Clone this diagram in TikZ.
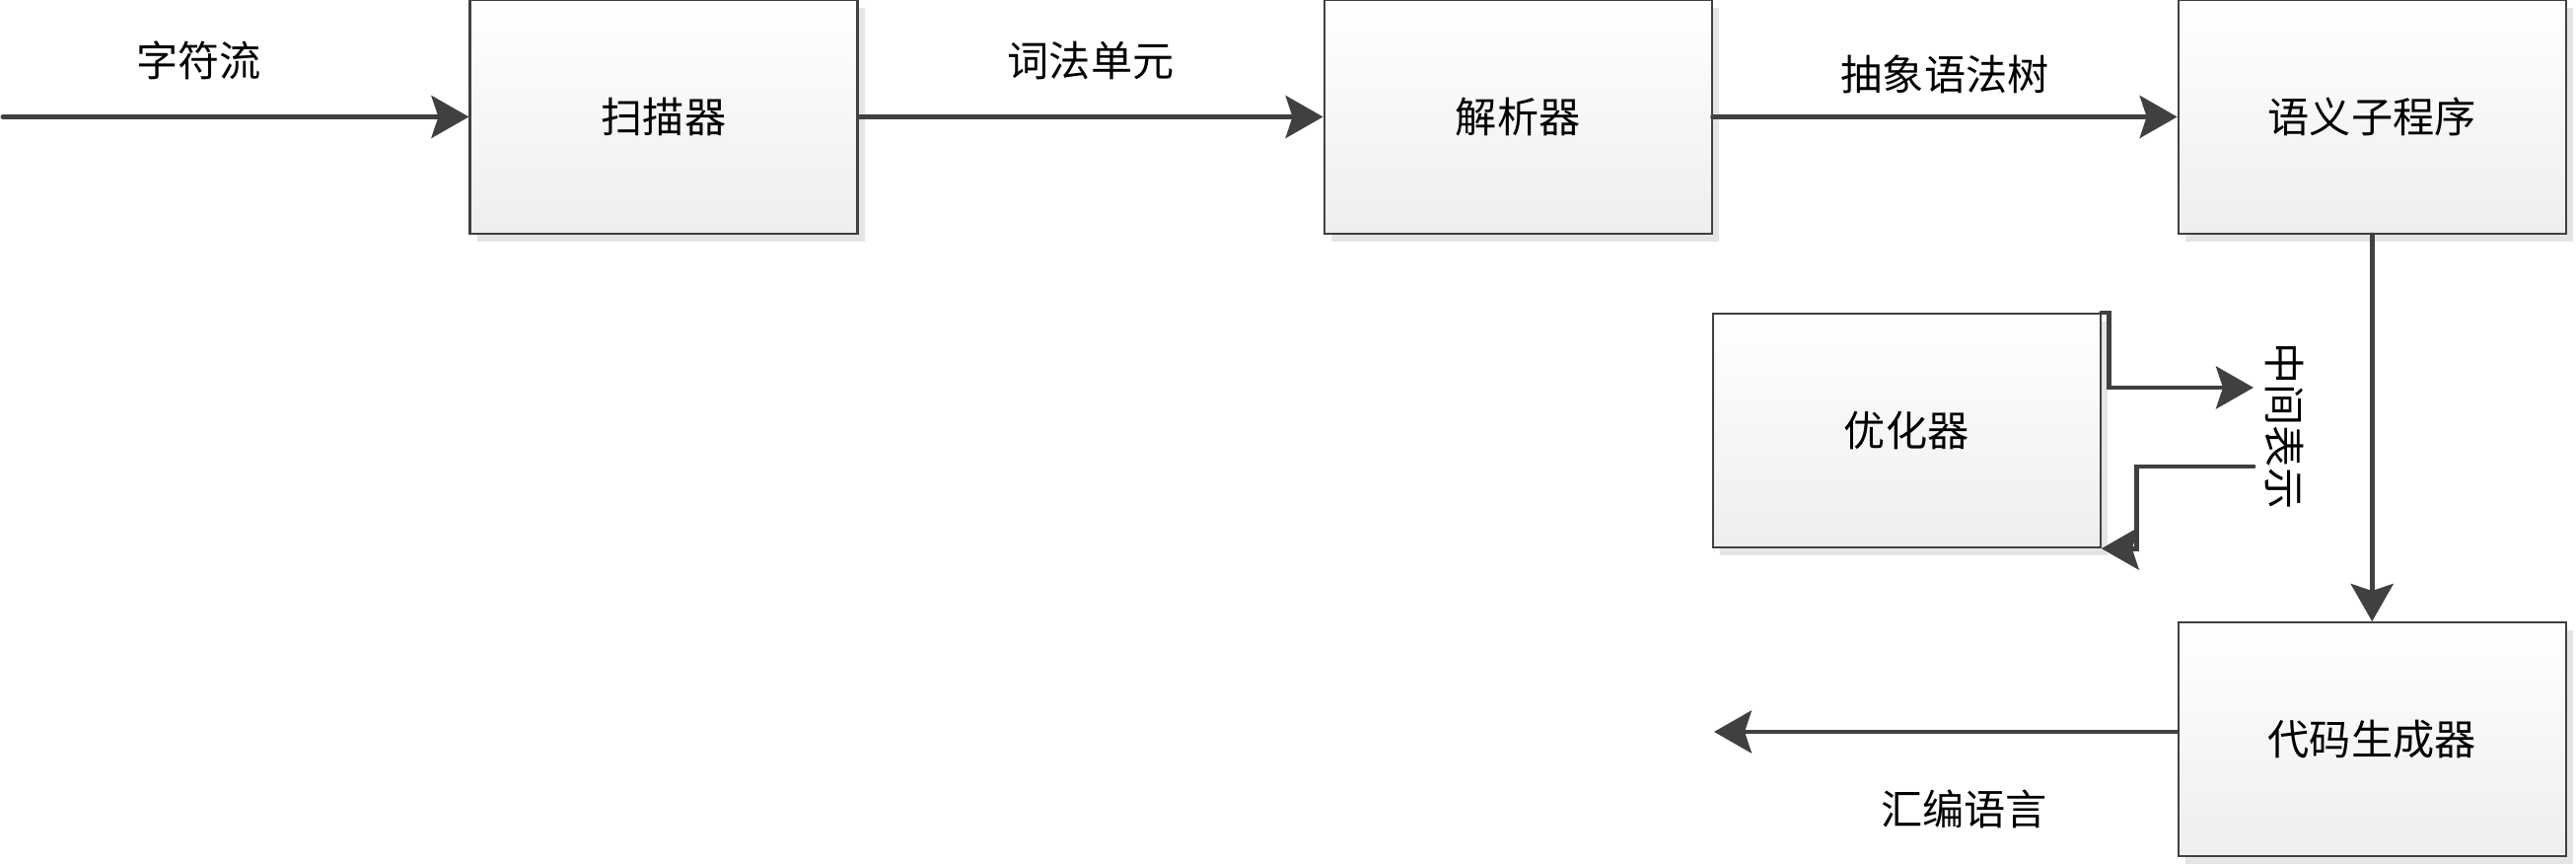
\documentclass[tikz,border=0pt]{standalone}
\usepackage{fontspec}
\newfontfamily\cjk{Noto Sans CJK SC}
\usepackage{tikz}
\usetikzlibrary{arrows.meta,positioning,calc,shadows}
\definecolor{linegray}{HTML}{404040}
\definecolor{shadegray}{HTML}{EEEEEE}
\definecolor{shadowgray}{HTML}{E5E5E5}

\begin{document}
\begin{tikzpicture}[
  font=\cjk\fontsize{12pt}{14pt}\selectfont,
  box/.style={draw=linegray, line width=0.6pt, top color=white, bottom color=shadegray, minimum width=3.93cm, minimum height=2.37cm, inner sep=2pt, drop shadow={shadow xshift=0.075cm, shadow yshift=-0.08cm, fill=shadowgray, opacity=1}},
  arr/.style={-{Stealth[length=0.38cm, width=0.43cm, inset=0.07cm]}, line width=1.4pt, draw=linegray, line cap=round},
  lbl/.style={inner sep=0pt},
  node distance=4.71cm
]
\useasboundingbox (0,0) rectangle (26.12,-8.76);
\node[box] (scan) at (6.73,-1.185) {扫描器};
\node[box, right=of scan] (parse) {解析器};
\node[box, right=of parse] (sem) {语义子程序};
\node[box, below=3.92cm of sem] (gen) {代码生成器};
\node[box, anchor=north west] (opt) at ($(parse.south east)+(-0.01,-0.79)$) {优化器};
% main pipeline
\coordinate (src) at (0.03,-1.185);
\draw[arr] (src) -- node[lbl, pos=0.42, above=0.35cm] (chars) {字符流} (scan);
\draw[arr] (scan) -- node[lbl, above=0.35cm] (tokens) {词法单元} (parse);
\draw[arr] (parse) -- node[lbl, above=0.21cm] (ast) {抽象语法树} (sem);
\draw[arr] (sem) -- (gen);
\coordinate (asm) at (17.38,-7.42);
\draw[arr] (gen.west |- asm) -- node[lbl, pos=0.46, below=0.56cm] (asmlbl) {汇编语言} (asm);
% optimizer loop
\coordinate (irout) at (22.85,-3.93);
\coordinate (irin) at (22.85,-4.73);
\draw[arr] (opt.north east) -- ++(0.08,0) |- (irout);
\draw[arr] (irin) -| ($(opt.south east)+(0.36,0)$) -- (opt.south east);
\node[lbl, rotate=-90] (irlbl) at (23.17,-4.32) {中间表示};
\end{tikzpicture}
\end{document}
